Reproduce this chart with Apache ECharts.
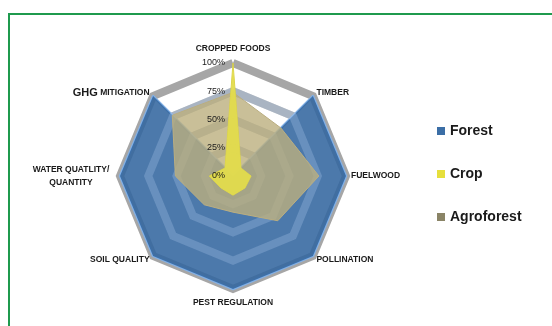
<!DOCTYPE html>
<html lang="en">
<head>
<meta charset="UTF-8">
<title>Ecosystem services radar</title>
<script src="https://cdn.jsdelivr.net/npm/echarts@6/dist/echarts.min.js"></script>
<style>
  html, body { margin: 0; padding: 0; background: #fff; }
  #frame { position: absolute; left: 8px; top: 13px; width: 600px; height: 400px;
           border-left: 2px solid #1f9a4e; border-top: 2px solid #1f9a4e; }
  #main { position: absolute; left: 0; top: 0; width: 552px; height: 326px; }
</style>
</head>
<body>
<div id="frame"></div>
<div id="main"></div>
<script>
// axes, clockwise from the top
var services = ['CROPPED FOODS', 'TIMBER', 'FUELWOOD', 'POLLINATION',
                'PEST REGULATION', 'SOIL QUALITY', 'WATER QUATLITY/\nQUANTITY', 'GHG MITIGATION'];
var forest     = [0, 100, 100, 100, 100, 100, 100, 100];
var crop       = [100, 10, 16, 15, 17, 15, 21, 10];
var agroforest = [74, 60, 76, 56, 32, 36, 51, 76];
var seriesNames = ['Forest', 'Crop', 'Agroforest'];

// echarts lays radar axes out anticlockwise, so keep the first and flip the rest
function cw(arr) { return [arr[0]].concat(arr.slice(1).reverse()); }

var chart = echarts.init(document.getElementById('main'));

function makeIndicators(withLabel) {
    return cw(services).map(function (s, i) {
        var ind = { name: s, min: 0, max: 100 };
        if (withLabel && i === 0) ind.axisLabel = { show: true, showMinLabel: true };
        return ind;
    });
}

var nameFont = { fontFamily: 'Liberation Sans', fontWeight: 'bold', color: '#1a1a1a' };
var clear = 'rgba(0,0,0,0)';
var band = 'rgba(175,205,245,0.36)';

// shared geometry for the stacked radar layers
function layer(extra) {
    return Object.assign({
        center: [233, 176],
        radius: 113,
        shape: 'polygon',
        splitNumber: 4,
        startAngle: 90,
        indicator: makeIndicators(false),
        axisName: { show: false },
        axisLine: { show: false },
        axisTick: { show: false },
        axisLabel: { show: false },
        splitLine: { show: false },
        splitArea: { show: false }
    }, extra);
}

var option = {
    backgroundColor: 'transparent',
    animation: false,
    legend: {
        orient: 'vertical',
        left: 432,
        top: 119,
        itemWidth: 8,
        itemHeight: 8,
        itemGap: 29,
        icon: 'rect',
        data: seriesNames,
        textStyle: {
            fontFamily: 'Liberation Sans',
            fontSize: 14,
            fontWeight: 'bold',
            color: '#1a1a1a'
        }
    },
    radar: [
        layer({
            z: 0,
            axisName: {
                show: true,
                color: '#1a1a1a',
                fontFamily: 'Liberation Sans',
                fontSize: 8.5,
                fontWeight: 'bold',
                formatter: function (name) {
                    if (name.indexOf('GHG') === 0) return '{g|GHG} {s|MITIGATION}';
                    if (name.indexOf('WATER') === 0) return '{w|WATER QUATLITY/}\n{w|QUANTITY}';
                    if (name.indexOf('CROPPED') === 0) return '{t|' + name + '}';
                    if (name.indexOf('PEST') === 0) return '{b|' + name + '}';
                    return name;
                },
                rich: {
                    g: Object.assign({ fontSize: 11 }, nameFont),
                    s: Object.assign({ fontSize: 8.5 }, nameFont),
                    t: Object.assign({ fontSize: 8.5, padding: [0, 0, 5, 0] }, nameFont),
                    b: Object.assign({ fontSize: 8.5, padding: [4, 0, 0, 0] }, nameFont),
                    w: Object.assign({ fontSize: 8.5, width: 88, align: 'center', lineHeight: 13 }, nameFont)
                }
            },
            nameGap: 5,
            splitLine: { show: true, lineStyle: { color: '#a6a6a6', width: 8 } }
        }),
        layer({
            // lighter rings showing through the forest fill
            z: 3,
            splitLine: { show: true, lineStyle: { color: [clear, band, band, band, clear], width: 8 } }
        }),
        layer({
            // percent labels on top of everything
            z: 12,
            indicator: makeIndicators(true),
            axisLabel: {
                show: false,
                showMinLabel: true,
                fontFamily: 'Liberation Sans',
                fontSize: 9,
                color: '#1a1a1a',
                formatter: '{value}%'
            }
        })
    ],
    series: [
        {
            name: 'Forest', type: 'radar', radarIndex: 0, z: 2, symbol: 'none',
            itemStyle: { color: '#3b6ea6' },
            lineStyle: { color: '#82b0e6', width: 2.5 },
            areaStyle: { color: '#33679f', opacity: 0.88 },
            data: [{ name: 'Forest', value: cw(forest) }]
        },
        {
            name: 'Agroforest', type: 'radar', radarIndex: 0, z: 4, symbol: 'none',
            itemStyle: { color: '#8a8466' },
            lineStyle: { color: '#b9ad82', width: 1 },
            areaStyle: { color: '#bbaf7e', opacity: 0.8 },
            data: [{ name: 'Agroforest', value: cw(agroforest) }]
        },
        {
            name: 'Crop', type: 'radar', radarIndex: 0, z: 5, symbol: 'none',
            itemStyle: { color: '#e6df3c' },
            lineStyle: { color: '#d8d04a', width: 1 },
            areaStyle: { color: '#e3dc4c', opacity: 0.95 },
            data: [{ name: 'Crop', value: cw(crop) }]
        }
    ]
};

chart.setOption(option);
</script>
</body>
</html>
